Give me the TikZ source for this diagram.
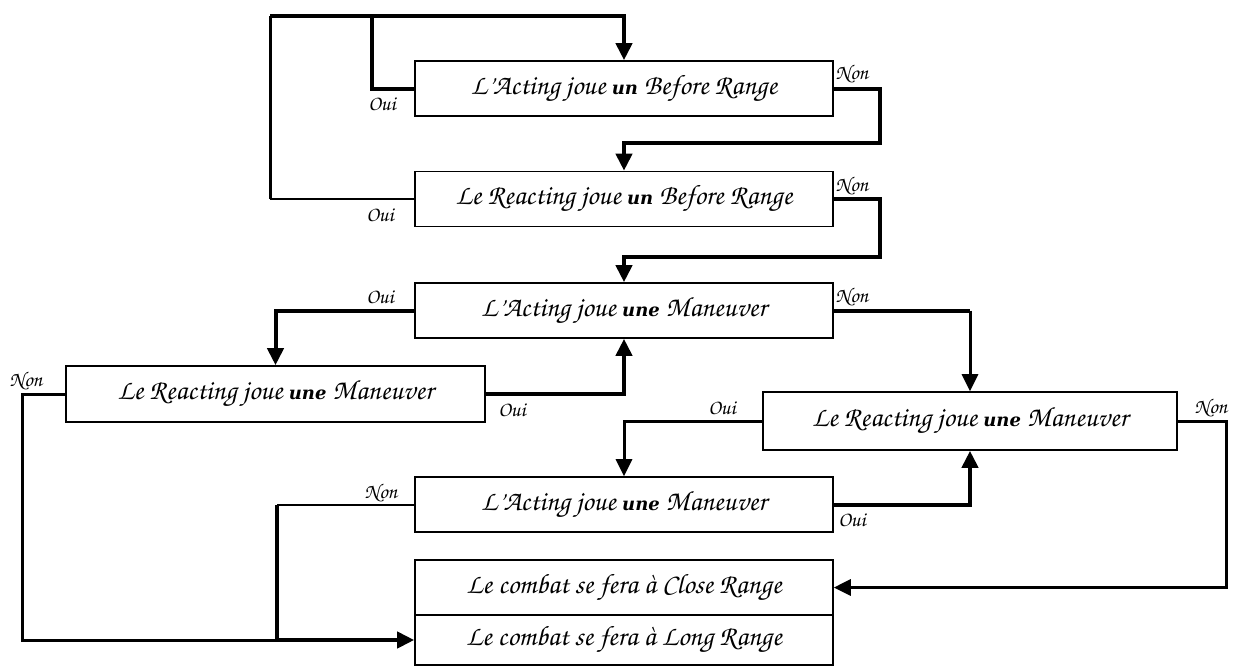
\documentclass[tikz,border=0pt]{standalone}
\usepackage[T1]{fontenc}
\usepackage{fontspec}
\usetikzlibrary{arrows.meta}
\newfontfamily\boldscript{DejaVu Serif}
\newcommand{\chanc}{\fontencoding{T1}\fontfamily{pzc}\fontseries{mb}\fontshape{it}\selectfont}
\newcommand{\hv}[1]{{\fontencoding{TU}\boldscript\fontsize{18}{19}\selectfont\bfseries\itshape #1}}
\tikzset{
  box/.style={draw, line width=1.6pt, minimum height=55pt, inner sep=0pt, font=\chanc\fontsize{28}{30}\selectfont},
  lab/.style={font=\chanc\fontsize{21}{22}\selectfont, inner sep=0pt},
  thk/.style={line width=4pt},
  med/.style={line width=3pt},
  thn/.style={line width=2pt},
  arr/.style={-{Triangle[length=17pt,width=16pt]}}
}
\begin{document}
\begin{tikzpicture}[x=1pt,y=-1pt]
\useasboundingbox (0,0) rectangle (1236,665);
% boxes
\node[box, minimum width=418pt] (b1) at (624,88.5) {L'Acting joue \hv{un} Before Range};
\node[box, minimum width=418pt] (b2) at (624,199) {Le Reacting joue \hv{un} Before Range};
\node[box, minimum width=418pt] (b3) at (624,310.5) {L'Acting joue \hv{une} Maneuver};
\node[box, minimum width=419pt, minimum height=56pt] (b4) at (275.5,394) {Le Reacting joue \hv{une} Maneuver};
\node[box, minimum width=414pt, minimum height=58pt] (b5) at (970,421) {Le Reacting joue \hv{une} Maneuver};
\node[box, minimum width=418pt] (b6) at (624,504.5) {L'Acting joue \hv{une} Maneuver};
\node[box, minimum width=418pt] (b7) at (624,587.5) {Le combat se fera \`a Close Range};
\node[box, minimum width=418pt, minimum height=50pt] (b8) at (624,640) {Le combat se fera \`a Long Range};
% helper coordinates
\coordinate (t1) at (372,16);
\coordinate (t2) at (270,16);
\coordinate (j6) at (277,640);
% connectors
\draw[thk] (b1.west) -| (t1);
\draw[thn] (b2.west) -- (270,199);
\draw[med] (270,199) -- (t2);
\draw[thk,arr] (t2) -| (b1.north);
\draw[thk,arr] (b1.east) -| (880,143) -| (b2.north);
\draw[thk,arr] (b2.east) -| (880,257) -| (b3.north);
\draw[thk,arr] (b3.west) -| (b4.north);
\draw[thk] (b3.east) -- (970,310.5);
\draw[med,arr] (970,310.5) -- (b5.north);
\draw[thk,arr] (b4.east) -| (b3.south);
\draw[med] (b4.west) -| (22,640) -- (j6);
\draw[thk,arr] (j6) -- (b8.west);
\draw[med,arr] (b5.west) -| (b6.north);
\draw[med,arr] (b5.east) -| (1226,587.5) -- (b7.east);
\draw[thk,arr] (b6.east) -| (b5.south);
\draw[thn] (b6.west) -- (277,504.5);
\draw[thk] (277,504.5) -- (j6);
% labels
\node[lab] (o1) at (382,104) {Oui};
\node[lab] (n1) at (852,74) {Non};
\node[lab] (o2) at (380,215) {Oui};
\node[lab] (n2) at (852,186) {Non};
\node[lab] (o3) at (380,297) {Oui};
\node[lab] (n3) at (852,297) {Non};
\node[lab] (n4) at (26,381) {Non};
\node[lab] (o4) at (512,410) {Oui};
\node[lab] (o5) at (722,408) {Oui};
\node[lab] (n5) at (1211,408) {Non};
\node[lab] (n6) at (381,493) {Non};
\node[lab] (o6) at (852,520) {Oui};
\end{tikzpicture}
\end{document}
